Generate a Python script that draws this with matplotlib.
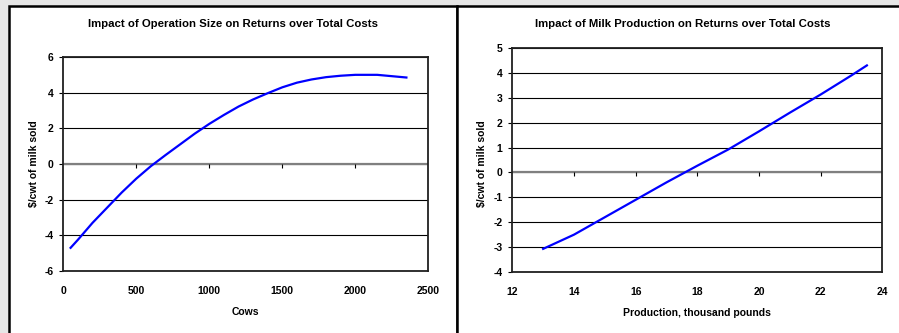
import numpy as np
import matplotlib.pyplot as plt
from matplotlib.patches import Rectangle

# left chart: returns vs herd size
cows = [50, 100, 200, 300, 400, 500, 600, 700, 800, 900, 1000, 1100, 1200,
        1300, 1400, 1500, 1600, 1700, 1800, 1900, 2000, 2150, 2350]
ret_cows = [-4.7, -4.25, -3.3, -2.45, -1.6, -0.82, -0.12, 0.5, 1.1, 1.7, 2.25,
            2.75, 3.22, 3.62, 3.97, 4.3, 4.56, 4.74, 4.87, 4.95, 5.0, 5.0, 4.85]

# right chart: returns vs milk production
prod = [13, 14, 15, 16, 17, 18, 19, 20, 21, 22, 23, 23.5]
ret_prod = [-3.07, -2.5, -1.8, -1.1, -0.4, 0.27, 0.92, 1.65, 2.4, 3.13, 3.9, 4.3]

plt.rcParams['font.family'] = 'Liberation Sans'
plt.rcParams['font.weight'] = 'bold'
plt.rcParams['axes.unicode_minus'] = False

W, H = 899, 333
fig = plt.figure(figsize=(W / 100, H / 100), dpi=100, facecolor='#e6e6e6')

# white panels with black frame
for x0, x1 in [(9, 457), (457, 905)]:
    fig.patches.append(Rectangle((x0 / W, -0.1), (x1 - x0) / W, 1.1 - 6.5 / H,
                                 transform=fig.transFigure, facecolor='white',
                                 edgecolor='black', linewidth=1.8, zorder=-10))


def make_axes(rect, x, y, xlim, xticks, ylim, yticks, title, xlabel, tcx, ylx):
    ax = fig.add_axes(rect)
    ax.plot(x, y, color='#0000ff', linewidth=1.6, zorder=3)
    ax.set_xlim(*xlim)
    ax.set_ylim(*ylim)
    ax.set_xticks(xticks)
    ax.set_yticks(yticks)
    ax.grid(axis='y', color='black', linewidth=0.8)
    ax.set_axisbelow(True)
    for s in ax.spines.values():
        s.set_color('#202020')
        s.set_linewidth(1.3)
    ax.tick_params(axis='x', length=0, pad=11, labelsize=7.5)
    ax.tick_params(axis='y', length=3, width=0.8, pad=4, labelsize=7.5)

    # zero line with small downward ticks (axis crosses at 0)
    ax.axhline(0, color='#808080', linewidth=1.6, zorder=2)
    tick_len = (ylim[1] - ylim[0]) * 3.5 / (rect[3] * H)
    ax.vlines(list(xticks)[1:-1], 0, -tick_len, color='black', linewidth=0.8, zorder=2)

    ax.set_xlabel(xlabel, fontsize=7.5, fontweight='bold', labelpad=8)
    fig.text(ylx / W, 1 - 164 / H, r'\$/cwt of milk sold', rotation=90,
             ha='center', va='center', fontsize=7.5, fontweight='bold')
    fig.text(tcx / W, 1 - 24 / H, title, ha='center', va='center',
             fontsize=8.2, fontweight='bold')
    return ax


make_axes([63.3 / W, (H - 271) / H, 365 / W, 214 / H], cows, ret_cows,
          (0, 2500), range(0, 2501, 500), (-6, 6), range(-6, 7, 2),
          'Impact of Operation Size on Returns over Total Costs', 'Cows', 233, 34)

make_axes([512.3 / W, (H - 272) / H, 370 / W, 224 / H], prod, ret_prod,
          (12, 24), range(12, 25, 2), (-4, 5), range(-4, 6, 1),
          'Impact of Milk Production on Returns over Total Costs',
          'Production, thousand pounds', 683, 482)

fig.savefig('out.png', dpi=100, facecolor=fig.get_facecolor())
